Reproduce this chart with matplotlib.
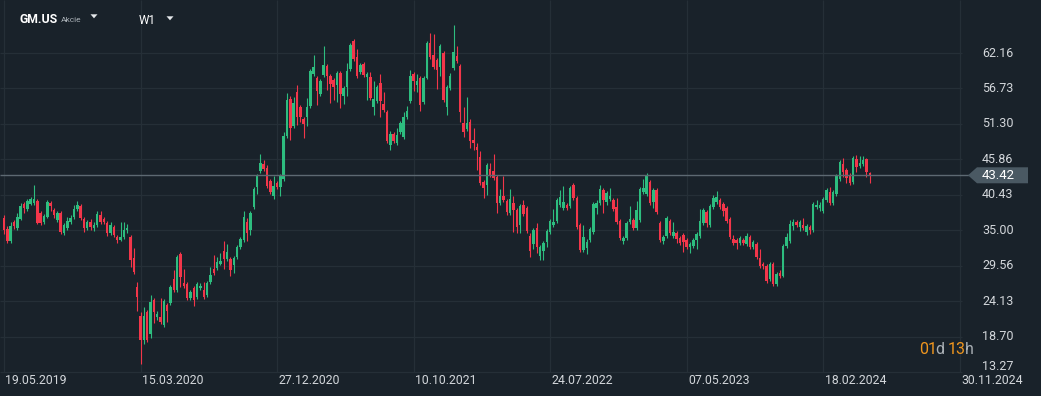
import numpy as np
import matplotlib.pyplot as plt
from matplotlib.patches import Polygon

# weekly candles (oldest first)
opens = [
    36.9, 35.2, 33.3, 36.2, 35.3, 36.7, 39.0, 38.3, 39.0, 39.1,
    39.5, 37.6, 36.2, 37.0, 39.1, 38.1, 36.6, 37.6, 34.6, 35.3,
    36.3, 37.0, 38.2, 38.7, 36.7, 35.3, 36.3, 35.3, 35.8, 37.4,
    36.7, 36.1, 34.6, 35.5, 34.0, 33.5, 33.9, 35.0, 33.9, 30.7,
    26.3, 21.9, 18.1, 22.5, 19.1, 24.3, 21.7, 21.7, 20.4, 23.5,
    23.8, 27.6, 25.8, 31.3, 26.9, 26.8, 24.6, 26.1, 24.8, 26.1,
    25.9, 25.1, 27.0, 29.0, 29.2, 29.8, 31.8, 30.6, 30.6, 29.6,
    30.9, 32.4, 33.5, 36.2, 35.0, 38.6, 41.6, 44.1, 45.1, 44.5,
    42.5, 40.2, 42.2, 41.6, 42.8, 49.5, 55.1, 51.0, 56.2, 53.9,
    52.0, 52.3, 54.0, 58.9, 58.3, 55.9, 58.8, 60.2, 58.6, 58.0,
    57.2, 59.1, 55.6, 57.0, 59.7, 64.0, 61.5, 59.2, 60.5, 58.5,
    58.5, 53.9, 54.8, 57.5, 54.3, 53.1, 48.1, 49.7, 48.3, 50.0,
    49.3, 52.3, 54.8, 58.9, 57.2, 58.3, 54.6, 58.4, 63.7, 61.9,
    61.1, 60.0, 62.1, 53.9, 56.8, 59.8, 61.7, 60.1, 51.4, 50.5,
    51.6, 48.8, 47.8, 46.2, 42.4, 41.9, 44.4, 44.1, 43.1, 39.2,
    40.2, 39.5, 37.6, 39.2, 38.1, 35.8, 38.8, 38.4, 34.1, 32.9,
    35.3, 31.0, 31.8, 33.2, 34.7, 35.8, 36.4, 38.8, 38.4, 38.8,
    38.7, 42.0, 39.9, 35.8, 32.0, 32.3, 33.5, 34.7, 38.4, 39.2,
    41.2, 39.3, 39.8, 39.6, 38.5, 36.4, 33.3, 33.8, 36.2, 36.6,
    35.4, 36.6, 40.8, 40.5, 42.4, 39.4, 41.1, 36.1, 33.4, 34.1,
    36.4, 34.1, 34.6, 33.8, 34.2, 33.5, 32.4, 32.6, 33.5, 34.1,
    36.1, 37.8, 35.8, 38.5, 39.3, 39.6, 39.0, 38.4, 36.7, 33.6,
    33.5, 33.0, 33.5, 32.9, 33.9, 32.4, 32.9, 30.7, 29.9, 29.5,
    27.5, 29.8, 26.8, 28.4, 28.0, 32.6, 33.4, 35.6, 36.2, 35.5,
    35.8, 34.7, 35.5, 35.0, 38.5, 38.4, 37.9, 39.6, 40.8, 39.1,
    40.5, 42.8, 45.2, 44.2, 43.3, 42.4, 45.9, 44.8, 45.2, 45.9,
    43.7,
]
closes = [
    35.0, 33.3, 35.6, 35.6, 37.0, 38.7, 38.4, 39.5, 39.8, 39.8,
    36.1, 36.1, 37.2, 39.3, 38.7, 37.3, 37.6, 34.7, 35.8, 36.4,
    36.8, 38.3, 38.9, 36.8, 35.3, 36.2, 35.5, 35.8, 37.5, 36.3,
    36.2, 34.6, 35.8, 34.2, 33.5, 33.9, 35.0, 35.3, 30.4, 28.6,
    24.8, 18.1, 21.8, 18.1, 24.0, 22.5, 22.1, 20.9, 24.1, 22.6,
    26.3, 25.8, 30.9, 27.8, 26.5, 24.6, 25.5, 24.3, 26.8, 26.4,
    24.8, 26.9, 28.2, 28.5, 30.2, 30.3, 30.6, 31.6, 28.9, 30.7,
    32.4, 33.6, 37.0, 34.6, 37.6, 41.3, 43.3, 45.3, 44.4, 41.8,
    40.9, 41.8, 41.6, 43.3, 49.5, 55.0, 50.6, 54.5, 52.3, 52.3,
    51.3, 53.9, 59.4, 60.0, 56.3, 57.9, 60.3, 58.6, 57.4, 57.0,
    59.1, 55.9, 56.8, 59.4, 63.4, 61.2, 58.6, 60.3, 58.8, 58.9,
    55.3, 55.1, 56.9, 54.8, 53.4, 48.7, 49.8, 48.7, 49.6, 51.5,
    52.3, 53.3, 58.6, 57.9, 57.9, 54.2, 58.4, 63.7, 61.6, 60.0,
    59.5, 63.2, 54.9, 57.0, 58.6, 62.3, 60.9, 53.1, 50.0, 51.4,
    48.7, 48.4, 47.3, 42.2, 41.5, 45.0, 43.5, 43.0, 39.2, 40.2,
    39.7, 37.8, 39.8, 38.1, 35.5, 38.7, 37.5, 34.9, 31.8, 35.0,
    32.4, 32.4, 33.0, 34.9, 36.4, 36.3, 39.6, 40.1, 39.3, 38.4,
    41.5, 39.9, 35.5, 32.0, 33.9, 33.2, 35.2, 39.0, 39.2, 41.3,
    39.6, 40.7, 40.3, 38.2, 36.2, 33.8, 33.8, 36.1, 36.7, 35.4,
    38.1, 41.3, 41.5, 43.3, 39.2, 41.2, 37.8, 33.5, 34.0, 36.9,
    34.6, 34.7, 33.7, 33.0, 33.2, 32.4, 32.9, 33.5, 34.4, 36.4,
    38.1, 36.1, 38.7, 39.9, 40.1, 38.5, 37.9, 36.4, 34.0, 33.0,
    33.0, 33.8, 33.0, 34.1, 32.4, 33.2, 30.9, 29.5, 29.5, 27.2,
    29.9, 26.8, 28.3, 28.0, 32.6, 33.9, 35.9, 36.2, 35.8, 36.2,
    35.3, 35.6, 35.0, 39.0, 38.9, 38.8, 39.8, 41.1, 39.2, 40.8,
    43.3, 45.4, 44.0, 43.0, 42.2, 46.1, 44.7, 45.3, 45.8, 43.9,
    43.42,
]
highs = [
    37.3, 35.6, 36.3, 36.6, 37.6, 39.2, 39.3, 39.8, 40.1, 41.9,
    39.8, 37.9, 37.5, 39.6, 39.5, 38.4, 37.9, 37.9, 36.1, 37.0,
    37.4, 38.8, 39.5, 39.0, 37.0, 36.6, 36.7, 36.3, 37.9, 38.0,
    37.0, 36.4, 36.2, 35.8, 34.3, 36.2, 36.3, 35.9, 34.2, 32.2,
    27.0, 22.5, 23.3, 22.8, 25.1, 24.6, 22.6, 24.6, 24.5, 23.8,
    26.6, 28.9, 31.2, 31.6, 29.1, 27.1, 25.9, 26.4, 27.1, 26.9,
    27.0, 27.2, 29.3, 31.2, 30.9, 31.5, 33.3, 32.9, 30.9, 31.0,
    32.7, 33.9, 38.0, 36.9, 37.9, 41.6, 43.6, 46.7, 45.8, 45.0,
    42.8, 43.3, 42.5, 43.6, 50.0, 56.0, 55.5, 55.4, 57.2, 54.2,
    52.3, 55.3, 59.7, 61.9, 58.6, 58.2, 63.3, 60.5, 58.9, 58.3,
    59.4, 59.4, 57.1, 60.6, 63.7, 64.3, 62.8, 60.6, 60.8, 59.2,
    59.2, 57.8, 57.2, 58.9, 56.2, 53.4, 50.2, 50.0, 50.6, 51.8,
    53.1, 54.0, 59.5, 59.2, 59.0, 58.6, 58.7, 64.0, 65.2, 65.0,
    61.4, 63.5, 62.4, 57.3, 59.1, 66.4, 63.2, 60.4, 53.9, 55.4,
    52.0, 50.6, 48.4, 47.1, 42.7, 45.3, 45.3, 46.7, 43.4, 41.3,
    43.3, 39.8, 41.3, 40.2, 38.4, 39.0, 39.6, 38.7, 34.6, 35.3,
    36.1, 32.7, 33.3, 35.2, 36.7, 38.2, 39.9, 41.2, 41.8, 39.1,
    41.8, 42.2, 40.2, 36.1, 35.8, 33.6, 35.5, 39.3, 39.6, 41.9,
    41.5, 41.0, 41.5, 39.9, 39.9, 36.7, 34.1, 36.4, 38.7, 36.9,
    39.5, 41.6, 42.9, 43.7, 42.7, 41.5, 41.4, 36.4, 34.3, 37.2,
    36.7, 36.2, 34.9, 34.1, 34.6, 33.8, 33.2, 33.8, 34.7, 38.2,
    38.4, 38.1, 39.0, 40.4, 41.0, 39.9, 39.3, 38.7, 37.0, 34.2,
    33.8, 34.1, 33.8, 34.6, 34.2, 33.5, 33.2, 32.1, 30.2, 29.8,
    30.2, 30.1, 28.6, 28.9, 32.9, 34.6, 36.6, 36.7, 36.5, 36.5,
    36.8, 35.9, 35.8, 39.3, 39.6, 39.3, 40.1, 41.4, 41.6, 41.1,
    43.6, 45.8, 46.1, 44.5, 43.8, 46.4, 46.5, 46.3, 46.3, 46.1,
    43.9,
]
lows = [
    34.4, 33.0, 33.1, 35.2, 35.0, 36.5, 37.6, 38.0, 38.8, 38.9,
    35.9, 35.8, 35.9, 36.8, 38.0, 36.9, 36.3, 34.4, 34.3, 35.0,
    36.0, 36.7, 37.9, 36.5, 34.8, 35.0, 35.0, 34.9, 35.5, 36.0,
    35.9, 34.1, 34.3, 33.9, 33.0, 33.3, 33.7, 34.6, 29.3, 28.3,
    22.6, 14.5, 17.6, 17.8, 18.5, 20.8, 21.2, 20.6, 20.2, 20.9,
    23.5, 25.5, 25.5, 26.3, 26.2, 24.3, 24.3, 23.4, 24.5, 25.8,
    24.5, 24.8, 26.7, 28.2, 28.9, 29.6, 29.0, 30.3, 28.0, 28.4,
    30.6, 32.1, 33.2, 33.3, 34.2, 38.3, 40.5, 43.8, 44.1, 41.5,
    40.6, 39.8, 41.3, 40.3, 42.5, 49.2, 48.8, 50.7, 51.1, 51.6,
    49.2, 51.0, 53.7, 58.6, 54.2, 55.6, 58.5, 56.5, 54.5, 55.0,
    54.7, 53.8, 54.3, 55.5, 59.4, 60.9, 58.3, 58.9, 58.5, 55.0,
    55.0, 52.7, 54.5, 52.3, 53.1, 48.4, 47.3, 48.4, 48.0, 49.7,
    49.0, 52.0, 54.5, 56.3, 56.2, 53.2, 54.3, 58.1, 61.3, 59.7,
    56.6, 58.6, 54.6, 52.7, 56.5, 59.5, 60.6, 51.6, 49.3, 50.2,
    47.6, 47.3, 44.2, 41.9, 39.9, 40.4, 43.2, 42.7, 37.6, 38.9,
    39.4, 37.3, 37.3, 34.7, 34.5, 34.5, 37.2, 34.6, 30.9, 32.1,
    31.5, 30.4, 30.4, 32.5, 34.4, 35.5, 36.1, 38.5, 38.1, 38.1,
    38.4, 39.6, 35.2, 31.7, 31.7, 31.4, 33.2, 34.4, 37.5, 38.9,
    37.6, 38.8, 39.5, 37.9, 35.9, 33.5, 32.9, 33.5, 35.9, 35.1,
    35.1, 36.3, 40.5, 40.2, 38.9, 38.4, 37.5, 33.2, 32.9, 33.8,
    34.3, 33.8, 33.0, 32.7, 31.6, 32.1, 31.5, 32.3, 32.1, 33.8,
    35.8, 35.5, 35.5, 38.2, 39.0, 38.2, 37.2, 36.1, 33.7, 32.7,
    32.1, 32.7, 32.7, 32.6, 32.1, 32.1, 30.6, 29.2, 29.0, 26.9,
    27.2, 26.5, 26.5, 27.7, 27.8, 32.3, 33.1, 35.0, 35.5, 34.9,
    35.0, 34.2, 34.4, 34.7, 38.2, 37.9, 37.6, 39.3, 38.9, 38.8,
    40.2, 42.5, 43.2, 42.2, 41.9, 42.1, 43.9, 44.5, 44.9, 43.1,
    42.2,
]

price_ticks = [62.16, 56.73, 51.30, 45.86, 40.43, 35.00, 29.56, 24.13, 18.70, 13.27]
date_labels = ['19.05.2019', '15.03.2020', '27.12.2020', '10.10.2021',
               '24.07.2022', '07.05.2023', '18.02.2024', '30.11.2024']
date_idx = [0, 41, 82, 123, 164, 205, 246, 287]
last_price = 43.42

BG = '#19222a'
GRID = '#252f37'
TXT = '#d3d7db'
GREEN = '#2dbd7f'
RED = '#f2364a'
ORANGE = '#f0961e'

W, H = 1041, 396
X0, PX = 4.0, 3.33          # pixel of first candle, pixels per candle
Y0, PY = 458.6, 6.525       # pixel of price 0, pixels per dollar


def px2i(x):
    return (x - X0) / PX


def py2p(y):
    return (Y0 - y) / PY


plt.rcParams['font.family'] = ['Roboto', 'DejaVu Sans']
fig = plt.figure(figsize=(W / 100, H / 100), dpi=100, facecolor=BG)
ax = fig.add_axes([0, 0, 1, 1])
ax.set_axis_off()
ax.set_xlim(px2i(0), px2i(W))
ax.set_ylim(py2p(H), py2p(0))

# grid
ax.hlines(price_ticks, px2i(0), px2i(962), color=GRID, lw=0.9, zorder=0)
ax.vlines(date_idx, py2p(372), py2p(0), color=GRID, lw=0.9, zorder=0)

# candles
o = np.array(opens)
c = np.array(closes)
hi = np.array(highs)
lo = np.array(lows)
idx = np.arange(len(c))
cols = np.where(c >= o, GREEN, RED)
ax.vlines(idx, lo, hi, colors=cols, lw=0.8, zorder=2)
ax.bar(idx, np.maximum(np.abs(c - o), 0.15), bottom=np.minimum(o, c),
       width=0.75, color=cols, linewidth=0, zorder=3)

# last price line and tag
ax.hlines(last_price, px2i(0), px2i(969), color='#5d6972', lw=1.0, zorder=4)
yt = Y0 - last_price * PY
tag = [(968, yt), (977, yt - 8), (1028, yt - 8), (1028, yt + 8), (977, yt + 8)]
ax.add_patch(Polygon([(px2i(x), py2p(y)) for x, y in tag], closed=True,
                     facecolor='#4a5963', edgecolor='none', zorder=5))
ax.text(px2i(982), last_price, f'{last_price:.2f}', color='white', fontsize=9.5,
        ha='left', va='center', zorder=6)

# axis labels (the lowest price label sits a little higher, above the dates)
for v in price_ticks:
    if abs(v - last_price) < 2:
        continue
    yl = v if v > 15 else py2p(366)
    ax.text(px2i(982), yl, f'{v:.2f}', color=TXT, fontsize=9, ha='left', va='center')
for i, lab in zip(date_idx, date_labels):
    ax.text(i + 0.4, py2p(380), lab, color=TXT, fontsize=8.8, ha='left', va='center')

# header
fig.text(20 / W, 1 - 19.5 / H, 'GM.US', color='white', fontsize=8.8,
         fontweight='bold', ha='left', va='center')
fig.text(61 / W, 1 - 20.5 / H, 'Akcie', color='#aab1b7', fontsize=6.0,
         ha='left', va='center')
fig.text(139 / W, 1 - 20 / H, 'W1', color='white', fontsize=8.5,
         ha='left', va='center')
for x, y in [(94, 16.3), (170, 18.3)]:
    tri = [(x - 3.5, y - 2), (x + 3.5, y - 2), (x, y + 2)]
    ax.add_patch(Polygon([(px2i(a), py2p(b)) for a, b in tri], closed=True,
                         facecolor='#e6e9ec', edgecolor='none'))

# countdown
for x, s, col in [(919, '01', ORANGE), (935, 'd', '#aab0b5'),
                  (948, '13', ORANGE), (964.5, 'h', '#aab0b5')]:
    fig.text(x / W, 1 - 350 / H, s, color=col, fontsize=11.5, ha='left', va='center')

fig.savefig('out.png', dpi=100, facecolor=BG)
